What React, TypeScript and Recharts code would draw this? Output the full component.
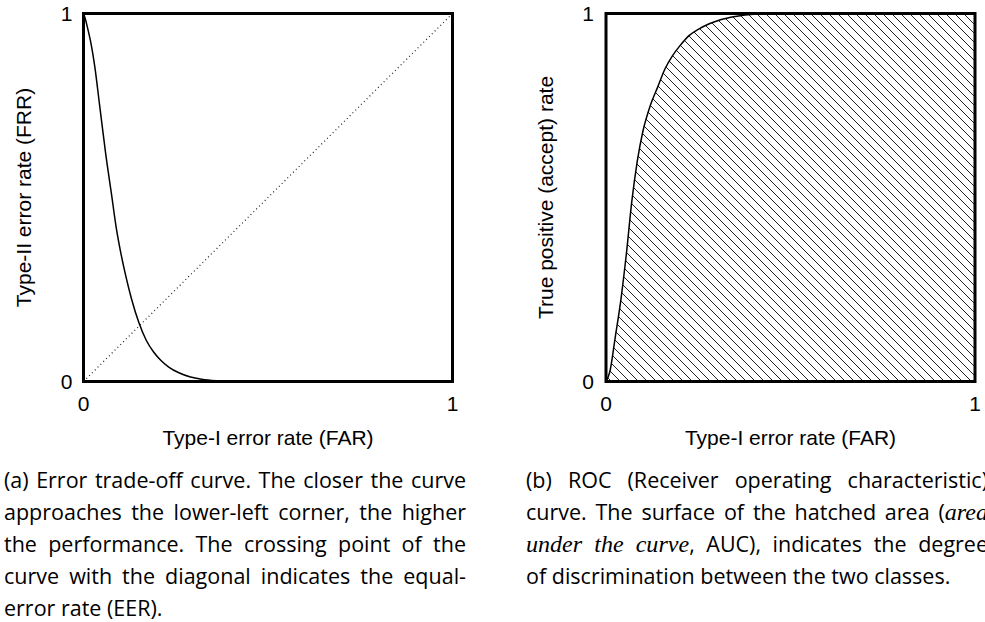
import {
  Area,
  ComposedChart,
  Line,
  LineChart,
  ReferenceArea,
  ReferenceLine,
  XAxis,
  YAxis,
} from 'recharts'

const axisTicks = [0, 1]

// (a) error trade-off curve
const detFar = [0, 0.005, 0.01, 0.02, 0.03, 0.045, 0.06, 0.075, 0.09, 0.1, 0.115, 0.13, 0.15, 0.17, 0.19, 0.21, 0.23, 0.26, 0.29, 0.32, 0.36, 0.42, 0.5, 1]
const detFrr = [1, 0.985, 0.965, 0.92, 0.86, 0.74, 0.62, 0.515, 0.41, 0.355, 0.285, 0.225, 0.16, 0.112, 0.08, 0.057, 0.04, 0.023, 0.012, 0.006, 0.002, 0, 0, 0]

// (b) ROC curve
const rocFar = [0, 0.01, 0.025, 0.04, 0.055, 0.07, 0.085, 0.1, 0.12, 0.14, 0.16, 0.18, 0.2, 0.225, 0.25, 0.28, 0.31, 0.35, 0.4, 0.5, 0.75, 1]
const rocTpr = [0, 0.025, 0.12, 0.22, 0.345, 0.49, 0.6, 0.68, 0.75, 0.8, 0.85, 0.885, 0.912, 0.94, 0.957, 0.972, 0.983, 0.992, 0.998, 1, 1, 1]

const AXIS_FONT = '"Liberation Sans", Arial, sans-serif'
const TEXT_FONT = '"Open Sans", sans-serif'

const tickStyle = { fill: '#000', fontSize: 21, fontFamily: AXIS_FONT }
const labelStyle = { fill: '#000', fontSize: 21, fontFamily: AXIS_FONT }

function TradeOffChart() {
  const rows = detFar.map((far, i) => ({ far, frr: detFrr[i] }))
  return (
    <LineChart
      width={470}
      height={460}
      data={rows}
      margin={{ top: 13.5, right: 17.5, bottom: 0, left: 0 }}
    >
      <XAxis
        dataKey="far"
        type="number"
        domain={[0, 1]}
        ticks={axisTicks}
        axisLine={false}
        tickLine={false}
        tickSize={0}
        tickMargin={14.5}
        height={78.5}
        tick={tickStyle}
        label={{
          value: 'Type-I error rate (FAR)',
          position: 'insideBottom',
          offset: 15.5,
          style: labelStyle,
        }}
      />
      <YAxis
        type="number"
        domain={[0, 1]}
        ticks={axisTicks}
        axisLine={false}
        tickLine={false}
        tickSize={0}
        tickMargin={11}
        width={83.5}
        tick={tickStyle}
        label={{
          value: 'Type-II error rate (FRR)',
          angle: -90,
          position: 'insideLeft',
          offset: 24,
          style: { ...labelStyle, textAnchor: 'middle' },
        }}
      />
      <ReferenceLine
        segment={[{ x: 0, y: 0 }, { x: 1, y: 1 }]}
        stroke="#222"
        strokeWidth={1.2}
        strokeDasharray="1 3"
      />
      <Line
        dataKey="frr"
        type="monotone"
        stroke="#000"
        strokeWidth={1.5}
        dot={false}
        isAnimationActive={false}
      />
      <ReferenceArea x1={0} x2={1} y1={0} y2={1} fill="none" stroke="#000" strokeWidth={3} />
    </LineChart>
  )
}

function RocChart() {
  const rows = rocFar.map((far, i) => ({ far, tpr: rocTpr[i] }))
  return (
    <ComposedChart
      width={485}
      height={460}
      data={rows}
      margin={{ top: 13.5, right: 10, bottom: 0, left: 0 }}
    >
      <defs>
        <pattern id="hatch" patternUnits="userSpaceOnUse" width="9" height="9">
          <path d="M-1,-1 L10,10 M-1,8 L1,10 M8,-1 L10,1" stroke="#222" strokeWidth="1" />
        </pattern>
      </defs>
      <XAxis
        dataKey="far"
        type="number"
        domain={[0, 1]}
        ticks={axisTicks}
        axisLine={false}
        tickLine={false}
        tickSize={0}
        tickMargin={14.5}
        height={78.5}
        tick={tickStyle}
        label={{
          value: 'Type-I error rate (FAR)',
          position: 'insideBottom',
          offset: 15.5,
          style: labelStyle,
        }}
      />
      <YAxis
        type="number"
        domain={[0, 1]}
        ticks={axisTicks}
        axisLine={false}
        tickLine={false}
        tickSize={0}
        tickMargin={12}
        width={106}
        tick={tickStyle}
        label={{
          value: 'True positive (accept) rate',
          angle: -90,
          position: 'insideLeft',
          offset: 46,
          style: { ...labelStyle, textAnchor: 'middle' },
        }}
      />
      <Area
        dataKey="tpr"
        type="monotone"
        stroke="#000"
        strokeWidth={1.5}
        fill="url(#hatch)"
        fillOpacity={1}
        isAnimationActive={false}
      />
      <ReferenceArea x1={0} x2={1} y1={0} y2={1} fill="none" stroke="#000" strokeWidth={3} />
    </ComposedChart>
  )
}

const lineStyle = {
  height: 32,
  lineHeight: '32px',
  textAlign: 'justify' as const,
  textAlignLast: 'justify' as const,
}
const lastLine = { height: 32, lineHeight: '32px', textAlign: 'left' as const }
const mathIt = {
  fontFamily: '"Liberation Serif", serif',
  fontStyle: 'italic',
  fontSize: '1.12em',
}

export default function App() {
  return (
    <div
      style={{
        position: 'absolute',
        left: 0,
        top: 0,
        width: 985,
        height: 622,
        overflow: 'hidden',
        background: '#fff',
      }}
    >
      <div style={{ position: 'absolute', left: 0, top: 0 }}>
        <TradeOffChart />
      </div>
      <div style={{ position: 'absolute', left: 500, top: 0 }}>
        <RocChart />
      </div>

      <div
        style={{
          position: 'absolute',
          left: 4,
          top: 464,
          width: 462,
          fontFamily: TEXT_FONT,
          fontSize: 21.5,
          color: '#000',
        }}
      >
        <div style={lineStyle}>(a) Error trade-off curve. The closer the curve</div>
        <div style={lineStyle}>approaches the lower-left corner, the higher</div>
        <div style={lineStyle}>the performance. The crossing point of the</div>
        <div style={lineStyle}>curve with the diagonal indicates the equal-</div>
        <div style={lastLine}>error rate (EER).</div>
      </div>

      <div
        style={{
          position: 'absolute',
          left: 526,
          top: 464,
          width: 462,
          fontFamily: TEXT_FONT,
          fontSize: 21.5,
          color: '#000',
        }}
      >
        <div style={lineStyle}>(b) ROC (Receiver operating characteristic)</div>
        <div style={lineStyle}>
          curve. The surface of the hatched area (<span style={mathIt}>area</span>
        </div>
        <div style={lineStyle}>
          <span style={mathIt}>under the curve</span>, AUC), indicates the degree
        </div>
        <div style={lastLine}>of discrimination between the two classes.</div>
      </div>
    </div>
  )
}
